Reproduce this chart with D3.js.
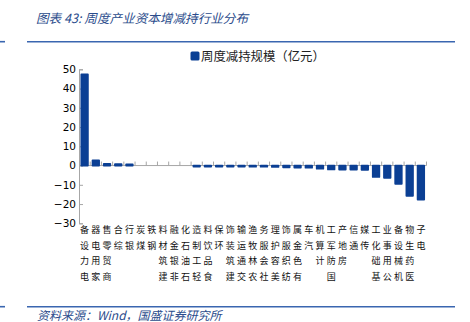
<!DOCTYPE html>
<html>
<head>
<meta charset="utf-8">
<script src="https://cdn.jsdelivr.net/npm/d3@7"></script>
<style>
  html, body { margin: 0; padding: 0; background: #fff; }
  svg { display: block; }
</style>
</head>
<body>
<svg id="chart" width="470" height="322"></svg>
<script>
// Industry categories (Shenwan level-1), in display order
const industries = [
  "电力设备", "家用电器", "商贸零售", "综合", "银行", "煤炭", "钢铁", "建筑材料",
  "非银金融", "石油石化", "轻工制造", "食品饮料", "环保", "建筑装饰", "交通运输",
  "农林牧渔", "社会服务", "美容护理", "纺织服饰", "有色金属", "汽车", "计算机",
  "国防军工", "房地产", "通信", "传媒", "基础化工", "公用事业", "机械设备",
  "医药生物", "电子"
];
// Weekly net increase/decrease of holdings (100 million yuan)
const netHoldings = [
  47.3, 2.7, 0.8, 0.7, 0.6, null, null, null,
  null, null, -0.5, -0.5, -0.5, -0.5, -0.5,
  -0.6, -0.6, -0.7, -0.9, -1.0, -1.1, -1.6,
  -2.0, -2.1, -2.1, -2.2, -5.9, -6.4, -9.5,
  -15.7, -17.7
];
const yTicks = [50, 40, 30, 20, 10, 0, -10, -20, -30];
const seriesName = "周度减持规模（亿元）";
const titleText = "图表 43:  周度产业资本增减持行业分布";
const sourceText = "资料来源：Wind，国盛证券研究所";

const svg = d3.select("#chart");
const blue = "#0b3f94";
const ruleBlue = "#3a66b0";
const cjk = "'Noto Sans CJK SC', 'Noto Sans', sans-serif";

// Header and footer rules
[41.7, 306.7].forEach(y => {
  svg.append("line").attr("x1", 27).attr("x2", 455).attr("y1", y).attr("y2", y)
    .attr("stroke", ruleBlue).attr("stroke-width", 1.6);
  svg.append("line").attr("x1", 0).attr("x2", 5).attr("y1", y).attr("y2", y)
    .attr("stroke", ruleBlue).attr("stroke-width", 1.6);
});

svg.append("text").attr("x", 36).attr("y", 22.5)
  .attr("font-family", cjk).attr("font-size", 12.6).attr("font-style", "italic")
  .attr("fill", "#2b4c8c").text(titleText);

svg.append("text").attr("x", 37).attr("y", 319.5)
  .attr("font-family", cjk).attr("font-size", 12).attr("font-style", "italic")
  .attr("fill", "#2b4c8c").text(sourceText);

// Scales
const x = d3.scaleBand().domain(industries).range([79, 426.5]).paddingInner(0.42).paddingOuter(0.21);
const y = d3.scaleLinear().domain([-30, 50]).range([223.3, 69.3]);

// Y axis
const yAxis = d3.axisLeft(y).tickValues(yTicks).tickSize(-4).tickPadding(3).tickFormat(d3.format("d"));
const gy = svg.append("g").attr("transform", "translate(79,0)").call(yAxis);
gy.select(".domain").attr("stroke", "#a6a6a6");
gy.selectAll(".tick line").attr("stroke", "#a6a6a6");
gy.selectAll(".tick text").attr("font-family", "'DejaVu Sans', Verdana, sans-serif")
  .attr("font-size", 10.5).attr("fill", "#000");

// Zero baseline with category-boundary ticks
const bounds = d3.range(industries.length + 1).map(i => 79 + i * (426.5 - 79) / industries.length);
svg.append("line").attr("x1", 79).attr("x2", 426.5).attr("y1", y(0)).attr("y2", y(0))
  .attr("stroke", "#a6a6a6").attr("stroke-width", 1);
svg.append("g").selectAll("line").data(bounds.slice(1)).join("line")
  .attr("x1", d => d).attr("x2", d => d).attr("y1", y(0) - 4).attr("y2", y(0))
  .attr("stroke", "#a6a6a6").attr("stroke-width", 1);

// Bars
const data = industries.map((name, i) => ({ name, value: netHoldings[i] }))
  .filter(d => d.value !== null);
svg.append("g").selectAll("rect").data(data).join("rect")
  .attr("x", d => x(d.name))
  .attr("width", x.bandwidth())
  .attr("y", d => y(Math.max(0, d.value)))
  .attr("height", d => Math.abs(y(d.value) - y(0)))
  .attr("fill", blue).attr("stroke", blue).attr("stroke-width", 1.8)
  .attr("stroke-linejoin", "round");

// Vertical category labels: characters stacked, read bottom-to-top
const labelTop = 233;
const charStep = 15.5;
const lg = svg.append("g").attr("font-family", cjk).attr("font-size", 9).attr("fill", "#111")
  .attr("text-anchor", "middle");
industries.forEach(name => {
  const chars = Array.from(name);
  const cx = x(name) + x.bandwidth() / 2;
  chars.forEach((ch, i) => {
    lg.append("text").attr("x", cx)
      .attr("y", labelTop + (chars.length - 1 - i) * charStep)
      .text(ch);
  });
});

// Legend
svg.append("rect").attr("x", 190.5).attr("y", 51.5).attr("width", 9).attr("height", 9)
  .attr("rx", 1.5).attr("fill", blue);
svg.append("text").attr("x", 201).attr("y", 60.5)
  .attr("font-family", cjk).attr("font-size", 12.4).attr("fill", "#222").text(seriesName);
</script>
</body>
</html>
